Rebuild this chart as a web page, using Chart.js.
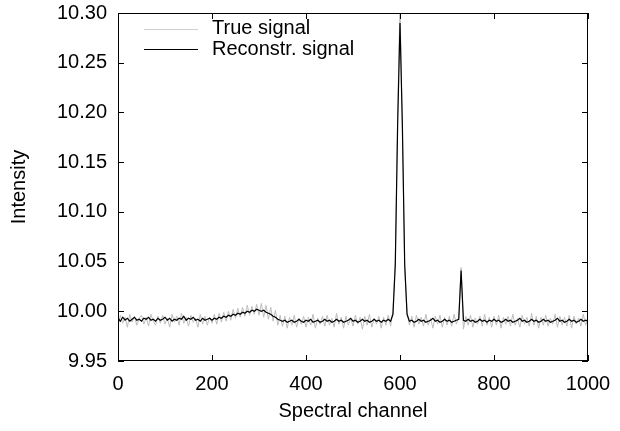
<!DOCTYPE html>
<html><head><meta charset="utf-8">
<script src="https://cdn.jsdelivr.net/npm/chart.js@4/dist/chart.umd.min.js"></script>
<style>html,body{margin:0;padding:0;background:#fff;}canvas{display:block;}</style>
</head><body>
<canvas id="c" width="620" height="431"></canvas>
<script>
const seriesNames = ['True signal', 'Reconstr. signal'];
// sampled every 5 spectral channels, 0..1000
const trueSignal = [
9.985, 9.996, 9.988, 9.994, 9.984, 9.997, 9.989, 9.995, 9.986, 9.993,
9.996, 9.987, 9.994, 9.985, 9.997, 9.990, 9.986, 9.995, 9.988, 9.996,
9.987, 9.993, 9.984, 9.997, 9.989, 9.995, 9.986, 9.998, 9.988, 9.994,
9.985, 9.996, 9.989, 9.993, 9.984, 9.997, 9.987, 9.995, 9.986, 9.994,
9.988, 9.997, 9.987, 9.998, 9.989, 9.999, 9.990, 10.000, 9.991, 10.002,
9.993, 10.003, 9.994, 10.004, 9.995, 10.006, 9.996, 10.005, 9.997, 10.007,
9.996, 10.008, 9.994, 10.006, 9.992, 10.004, 9.990, 10.001, 9.986, 9.996,
9.985, 9.995, 9.983, 9.994, 9.986, 9.996, 9.984, 9.993, 9.987, 9.995,
9.984, 9.994, 9.986, 9.997, 9.983, 9.993, 9.987, 9.995, 9.985, 9.996,
9.986, 9.993, 9.984, 9.998, 9.987, 9.994, 9.983, 9.995, 9.986, 9.993,
9.985, 9.996, 9.987, 9.994, 9.982, 9.995, 9.986, 9.997, 9.984, 9.993,
9.987, 9.995, 9.983, 9.994, 9.986, 9.996, 9.985, 10.001, 10.052, 10.195,
10.310, 10.182, 10.043, 9.999, 9.986, 9.995, 9.984, 9.996, 9.987, 9.994,
9.985, 9.997, 9.986, 9.993, 9.983, 9.995, 9.987, 9.996, 9.984, 9.994,
9.986, 9.995, 9.985, 9.997, 9.987, 9.994, 10.044, 9.982, 9.995, 9.986,
9.996, 9.984, 9.993, 9.987, 9.995, 9.985, 9.997, 9.986, 9.994, 9.984,
9.995, 9.986, 9.996, 9.983, 9.994, 9.987, 9.995, 9.985, 9.997, 9.986,
9.993, 9.984, 9.996, 9.987, 9.994, 9.985, 9.998, 9.986, 9.995, 9.983,
9.994, 9.986, 9.996, 9.985, 9.993, 9.987, 9.997, 9.984, 9.995, 9.986,
9.994, 9.985, 9.996, 9.983, 9.995, 9.987, 9.993, 9.985, 9.997, 9.986,
9.994
];
const reconstrSignal = [
9.993, 9.990, 9.994, 9.991, 9.993, 9.990, 9.992, 9.994, 9.991, 9.992,
9.990, 9.993, 9.992, 9.994, 9.991, 9.992, 9.990, 9.993, 9.991, 9.992,
9.994, 9.991, 9.993, 9.990, 9.992, 9.991, 9.993, 9.992, 9.995, 9.991,
9.993, 9.992, 9.994, 9.991, 9.992, 9.990, 9.993, 9.991, 9.992, 9.993,
9.991, 9.993, 9.992, 9.994, 9.993, 9.995, 9.994, 9.996, 9.995, 9.997,
9.996, 9.998, 9.997, 9.999, 9.998, 10.000, 9.999, 10.001, 10.000, 10.002,
10.001, 10.000, 10.001, 9.999, 9.998, 9.997, 9.995, 9.994, 9.992, 9.991,
9.990, 9.991, 9.989, 9.990, 9.991, 9.989, 9.990, 9.992, 9.990, 9.989,
9.991, 9.990, 9.992, 9.989, 9.990, 9.991, 9.989, 9.990, 9.992, 9.990,
9.991, 9.989, 9.990, 9.992, 9.990, 9.991, 9.989, 9.990, 9.991, 9.993,
9.990, 9.991, 9.989, 9.990, 9.992, 9.990, 9.991, 9.989, 9.990, 9.992,
9.990, 9.991, 9.989, 9.991, 9.990, 9.992, 9.990, 9.997, 10.047, 10.188,
10.290, 10.188, 10.047, 9.997, 9.990, 9.991, 9.989, 9.990, 9.992, 9.990,
9.991, 9.989, 9.990, 9.991, 9.993, 9.990, 9.991, 9.989, 9.990, 9.992,
9.990, 9.991, 9.989, 9.990, 9.991, 9.992, 10.041, 9.991, 9.990, 9.992,
9.990, 9.991, 9.989, 9.990, 9.992, 9.990, 9.991, 9.989, 9.991, 9.990,
9.992, 9.990, 9.991, 9.989, 9.990, 9.992, 9.990, 9.991, 9.989, 9.990,
9.991, 9.993, 9.990, 9.991, 9.989, 9.990, 9.992, 9.990, 9.991, 9.989,
9.990, 9.992, 9.990, 9.991, 9.989, 9.990, 9.991, 9.993, 9.990, 9.991,
9.989, 9.990, 9.992, 9.990, 9.991, 9.989, 9.990, 9.992, 9.990, 9.991,
9.990
];
const channels = trueSignal.map((_, i) => i * 5);
const xTickValues = [0, 200, 400, 600, 800, 1000];
const xTickLabels = ['0', '200', '400', '600', '800', '1000'];
const yTickValues = [9.95, 10.00, 10.05, 10.10, 10.15, 10.20, 10.25, 10.30];
const yTickLabels = ['9.95', '10.00', '10.05', '10.10', '10.15', '10.20', '10.25', '10.30'];
const seriesColors = ['#bdbdbd', '#000000'];

const FONT = { family: "'Liberation Sans', Arial, Helvetica, sans-serif", size: 20 };

const framePlugin = {
  id: 'frameAndLegend',
  afterDatasetsDraw(chart) {
    const { ctx, chartArea: a, scales: { x, y } } = chart;
    ctx.save();
    ctx.strokeStyle = '#000';
    ctx.lineWidth = 1;
    ctx.strokeRect(a.left + 0.5, a.top + 0.5, a.right - a.left - 1, a.bottom - a.top - 1);
    const tl = 6;
    ctx.beginPath();
    xTickValues.forEach(v => {
      const px = Math.round(x.getPixelForValue(v)) + 0.5;
      ctx.moveTo(px, a.bottom); ctx.lineTo(px, a.bottom - tl);
      ctx.moveTo(px, a.top); ctx.lineTo(px, a.top + tl);
    });
    yTickValues.forEach(v => {
      const py = Math.round(y.getPixelForValue(v)) + 0.5;
      ctx.moveTo(a.left, py); ctx.lineTo(a.left + tl, py);
      ctx.moveTo(a.right, py); ctx.lineTo(a.right - tl, py);
    });
    ctx.stroke();
    // legend inside plot, top-left
    ctx.font = FONT.size + 'px ' + FONT.family;
    ctx.textAlign = 'left';
    ctx.textBaseline = 'alphabetic';
    const rows = [{ ly: 29.5, ty: 34 }, { ly: 49.5, ty: 55 }];
    chart.data.datasets.forEach((ds, i) => {
      ctx.strokeStyle = i === 0 ? '#cfcfcf' : ds.borderColor;
      ctx.lineWidth = 1;
      ctx.beginPath();
      ctx.moveTo(144, rows[i].ly); ctx.lineTo(198, rows[i].ly);
      ctx.stroke();
      ctx.fillStyle = '#000';
      ctx.fillText(ds.label, 212, rows[i].ty);
    });
    ctx.restore();
  }
};

new Chart(document.getElementById('c'), {
  type: 'line',
  data: {
    datasets: [
      { label: seriesNames[0], data: channels.map((c, i) => ({ x: c, y: trueSignal[i] })),
        borderColor: seriesColors[0], borderWidth: 1, pointRadius: 0, tension: 0, order: 2 },
      { label: seriesNames[1], data: channels.map((c, i) => ({ x: c, y: reconstrSignal[i] })),
        borderColor: seriesColors[1], borderWidth: 1.2, pointRadius: 0, tension: 0, order: 1 }
    ]
  },
  options: {
    responsive: false, animation: false, devicePixelRatio: 1,
    layout: { padding: { top: 13, right: 32, left: 0, bottom: 0 } },
    plugins: { legend: { display: false }, tooltip: { enabled: false } },
    scales: {
      x: {
        type: 'linear', min: 0, max: 1000,
        afterBuildTicks: s => { s.ticks = xTickValues.map(v => ({ value: v })); },
        afterFit: s => { s.height = 70; s.paddingLeft = 0; s.paddingRight = 0; },
        ticks: { font: FONT, color: '#000', padding: 11, maxRotation: 0, autoSkip: false,
          callback: (v) => xTickLabels[xTickValues.indexOf(v)] },
        grid: { display: false, drawTicks: false },
        border: { display: false },
        title: { display: true, text: 'Spectral channel', font: FONT, color: '#000', padding: { top: 0, bottom: 8 } }
      },
      y: {
        type: 'linear', min: 9.95, max: 10.30,
        afterBuildTicks: s => { s.ticks = yTickValues.map(v => ({ value: v })); },
        afterFit: s => { s.width = 118; s.paddingTop = 0; s.paddingBottom = 0; },
        ticks: { font: FONT, color: '#000', padding: 11, autoSkip: false,
          callback: (v) => { const k = yTickValues.findIndex(t => Math.abs(t - v) < 1e-9); return yTickLabels[k]; } },
        grid: { display: false, drawTicks: false },
        border: { display: false },
        title: { display: true, text: 'Intensity', font: FONT, color: '#000', padding: { top: 7, bottom: 0 } }
      }
    }
  },
  plugins: [framePlugin]
});
</script>
</body></html>
